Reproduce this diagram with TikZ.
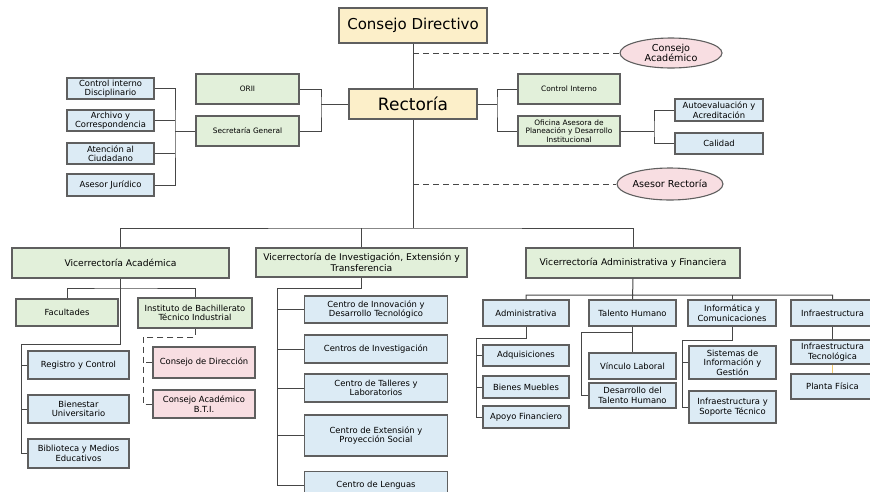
\documentclass[tikz,border=0pt]{standalone}
\usepackage{fontspec}
\setmainfont{DejaVu Sans}
\usepackage{tikz}
\usetikzlibrary{positioning}
\usetikzlibrary{shapes.geometric}
\usepackage{xcolor}
\definecolor{beige}{RGB}{252,239,201}
\definecolor{boxgreen}{RGB}{226,240,218}
\definecolor{boxblue}{RGB}{220,235,245}
\definecolor{boxpink}{RGB}{248,222,226}
\definecolor{edgegray}{RGB}{95,95,95}
\definecolor{linkgray}{RGB}{70,70,70}
\definecolor{linkorange}{RGB}{240,200,110}

\begin{document}
\begin{tikzpicture}[x=1pt,y=-1pt,
    unit/.style={draw=edgegray,line width=1.1pt,align=center,inner sep=1pt,
      font=\fontsize{8.4}{9.6}\selectfont},
    topbox/.style={unit,fill=beige},
    greenbox/.style={unit,fill=boxgreen},
    bluebox/.style={unit,fill=boxblue},
    pinkbox/.style={unit,fill=boxpink},
    smalltext/.style={font=\fontsize{7.4}{8.4}\selectfont},
    headtext/.style={font=\fontsize{9.2}{10.6}\selectfont},
    oval/.style={ellipse,draw=edgegray,line width=1.1pt,fill=boxpink,inner sep=0pt,
      font=\fontsize{9.6}{10.4}\selectfont,align=center},
    link/.style={draw=linkgray,line width=1pt},
    dashline/.style={link,dash pattern=on 6pt off 4pt}]
   \useasboundingbox (0,0) rectangle (870,491);
   \node[topbox,minimum width=148,minimum height=35,font=\fontsize{15}{17}\selectfont] (cd) at (413,25.5) {Consejo Directivo};
   \node[topbox,minimum width=128,minimum height=30,font=\fontsize{17}{19}\selectfont] (rec) at (413,104) {Rectoría};
   \node[oval,minimum width=102,minimum height=30] (ca) at (671,53) {Consejo\\Académico};
   \node[oval,minimum width=102,minimum height=32] (ar) at (670,184) {Asesor Rectoría};
   \node[greenbox,smalltext,minimum width=103,minimum height=30] (orii) at (247.5,89) {ORII};
   \node[greenbox,smalltext,minimum width=103,minimum height=30] (sg) at (247.5,131) {Secretaría General};
   \node[bluebox,minimum width=87,minimum height=21] (cid) at (110.5,88.5) {Control interno\\Disciplinario};
   \node[bluebox,minimum width=87,minimum height=21] (arc) at (110.5,120.5) {Archivo y\\Correspondencia};
   \node[bluebox,minimum width=87,minimum height=21] (aci) at (110.5,153.5) {Atención al\\Ciudadano};
   \node[bluebox,minimum width=87,minimum height=22] (aj) at (110.5,185) {Asesor Jurídico};
   \node[greenbox,smalltext,minimum width=102,minimum height=30] (ci) at (569,89) {Control Interno};
   \node[greenbox,smalltext,minimum width=102,minimum height=30] (oap) at (569,131) {Oficina Asesora de\\Planeación y Desarrollo\\Institucional};
   \node[bluebox,minimum width=88,minimum height=22] (aut) at (719,110) {Autoevaluación y\\Acreditación};
   \node[bluebox,minimum width=88,minimum height=21] (cal) at (719,143.5) {Calidad};

   \node[greenbox,headtext,minimum width=217,minimum height=30] (va) at (120.5,263) {Vicerrectoría Académica};
   \node[greenbox,headtext,minimum width=211,minimum height=29] (vi) at (361.5,262.5) {Vicerrectoría de Investigación, Extensión y\\Transferencia};
   \node[greenbox,headtext,minimum width=214,minimum height=30] (vaf) at (633,263) {Vicerrectoría Administrativa y Financiera};

   \node[greenbox,minimum width=102,minimum height=27] (fac) at (67,312.5) {Facultades};
   \node[greenbox,minimum width=114,minimum height=30] (ibt) at (195,313) {Instituto de Bachillerato\\Técnico Industrial};
   \node[bluebox,minimum width=101,minimum height=28] (rc) at (78.5,365) {Registro y Control};
   \node[bluebox,minimum width=101,minimum height=28] (bu) at (78.5,409) {Bienestar\\Universitario};
   \node[bluebox,minimum width=101,minimum height=29] (bme) at (78.5,453.5) {Biblioteca y Medios\\Educativos};
   \node[pinkbox,minimum width=102,minimum height=31] (cdd) at (204,362.5) {Consejo de Dirección};
   \node[pinkbox,minimum width=102,minimum height=28] (cab) at (204,404) {Consejo Académico\\B.T.I.};

   \node[bluebox,minimum width=143,minimum height=27] (cidt) at (376,309.5) {Centro de Innovación y\\Desarrollo Tecnológico};
   \node[bluebox,minimum width=143,minimum height=28] (cinv) at (376,349) {Centros de Investigación};
   \node[bluebox,minimum width=143,minimum height=28] (ctl) at (376,388) {Centro de Talleres y\\Laboratorios};
   \node[bluebox,minimum width=143,minimum height=41] (cep) at (376,435.5) {Centro de Extensión y\\Proyección Social};
   \node[bluebox,minimum width=143,minimum height=28,anchor=north] (cl) at (376,471) {Centro de Lenguas};

   \node[bluebox,minimum width=86,minimum height=26] (adm) at (526,313) {Administrativa};
   \node[bluebox,minimum width=87,minimum height=26] (th) at (632.5,313) {Talento Humano};
   \node[bluebox,minimum width=88,minimum height=26] (ic) at (732,313) {Informática y\\Comunicaciones};
   \node[bluebox,minimum width=83,minimum height=26] (inf) at (832.5,313) {Infraestructura};
   \node[bluebox,minimum width=86,minimum height=21] (adq) at (526,355.5) {Adquisiciones};
   \node[bluebox,minimum width=86,minimum height=22] (bm) at (526,387) {Bienes Muebles};
   \node[bluebox,minimum width=86,minimum height=22] (af) at (526,417) {Apoyo Financiero};
   \node[bluebox,minimum width=87,minimum height=26] (vl) at (632.5,366) {Vínculo Laboral};
   \node[bluebox,minimum width=87,minimum height=25] (dth) at (632.5,395.5) {Desarrollo del\\Talento Humano};
   \node[bluebox,minimum width=87,minimum height=33] (sig) at (732.5,362.5) {Sistemas de\\Información y\\Gestión};
   \node[bluebox,minimum width=87,minimum height=32] (ist) at (732.5,407) {Infraestructura y\\Soporte Técnico};
   \node[bluebox,minimum width=83,minimum height=24] (itec) at (832.5,352) {Infraestructura\\Tecnológica};
   \node[bluebox,minimum width=83,minimum height=25] (pf) at (832.5,386.5) {Planta Física};

   \coordinate (bus) at (413,228);
   \coordinate (lj) at (321,104);
   \coordinate (sj) at (175,131);
   \coordinate (rj) at (497,104);
   \coordinate (oj) at (654,131);
   \coordinate (vaj) at (120.5,288);
   \coordinate (vab) at (120.5,344);
   \coordinate (vabus) at (21,344);
   \coordinate (ibj) at (143,337);
   \coordinate (vij) at (277,288);
   \coordinate (vafj) at (633,295);
   \coordinate (admj) at (476,338);
   \coordinate (thj) at (581,332);
   \coordinate (icj) at (682,340);

   \draw[link] (cd.south) -- (rec.north) (rec.south) -- (bus);
   \draw[dashline] (cd.south |- ca.west) -- (ca.west);
   \draw[dashline] (rec.south |- ar.west) -- (ar.west);
   \draw[link] (rec.west) -- (lj) (orii.east) -| (lj) |- (sg.east);
   \draw[link] (sg.west) -- (sj) (cid.east) -| (sj) |- (aj.east);
   \draw[link] (arc.east) -- (arc.east -| sj) (aci.east) -- (aci.east -| sj);
   \draw[link] (rec.east) -- (rj) (ci.west) -| (rj) |- (oap.west);
   \draw[link] (oap.east) -- (oj) (aut.west) -| (oj) |- (cal.west);

   \draw[link] (va.north) |- (bus) -| (vaf.north);
   \draw[link] (vi.north) -- (vi.north |- bus);
   \draw[link] (va.south) -- (vab) (fac.north) |- (vaj) -| (ibt.north);
   \draw[link] (vab) -- (vabus) |- (bme.west);
   \draw[link] (rc.west) -- (rc.west -| vabus) (bu.west) -- (bu.west -| vabus);
   \draw[dashline] (ibt.south) |- (ibj) |- (cab.west);
   \draw[dashline] (cdd.west) -- (cdd.west -| ibj);

   \draw[link] (vi.south) |- (vij) |- (cl.west);
   \foreach \n in {cidt,cinv,ctl,cep}
     \draw[link] (\n.west) -- (\n.west -| vij);

   \draw[link] (vaf.south) -- (th.north) (adm.north) |- (vafj) -| (inf.north);
   \draw[link] (ic.north) -- (ic.north |- vafj);
   \draw[link] (adm.south) |- (admj) |- (af.west);
   \draw[link] (adq.west) -- (adq.west -| admj) (bm.west) -- (bm.west -| admj);
   \draw[link] (th.south) -- (vl.north) (th.south |- thj) -- (thj) |- (dth.west);
   \draw[link] (ic.south) |- (icj) |- (ist.west) (sig.west) -- (sig.west -| icj);
   \draw[link] (inf.south) -- (itec.north);
   \draw[draw=linkorange,line width=1pt] (itec.south) -- (pf.north);
\end{tikzpicture}
\end{document}
